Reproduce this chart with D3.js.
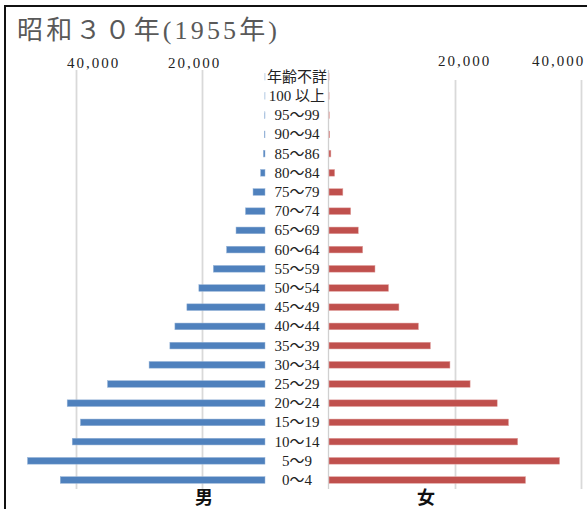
<!doctype html>
<html>
<head>
<meta charset="utf-8">
<title>昭和３０年(1955年)</title>
<script src="https://d3js.org/d3.v7.min.js"></script>
<style>
  body { margin: 0; background: #fff; }
  svg { display: block; }
</style>
</head>
<body>
<script>
// age groups, top row first (as printed)
var ageLabels = ["年齢不詳", "100 以上", "95～99", "90～94", "85～86", "80～84", "75～79",
                 "70～74", "65～69", "60～64", "55～59", "50～54", "45～49", "40～44",
                 "35～39", "30～34", "25～29", "20～24", "15～19", "10～14", "5～9", "0～4"];
// 男 (persons)
var maleValues = [10, 20, 40, 100, 260, 700, 1900,
                  3100, 4600, 6100, 8200, 10500, 12400, 14300,
                  15100, 18400, 25000, 31400, 29300, 30600, 37700, 32500];
// 女 (persons)
var femaleValues = [10, 15, 40, 100, 300, 900, 2200,
                    3450, 4650, 5350, 7300, 9450, 11100, 14200,
                    16100, 19200, 22400, 26700, 28500, 29950, 36600, 31200];
var tickValues = [20000, 40000];
// the men's chart is stacked on an invisible spacer to leave room for the age labels
var labelSpacer = 10000;

var vizWidth = 587, vizHeight = 509;

var viz = d3.select("body").append("svg")
    .attr("width", vizWidth)
    .attr("height", vizHeight);

// frame
viz.append("rect")
    .attr("x", 5).attr("y", 6)
    .attr("width", 620).attr("height", 600)
    .attr("fill", "none")
    .attr("stroke", "#111")
    .attr("stroke-width", 2);

viz.append("text")
    .attr("x", 17)
    .attr("y", 39)
    .attr("font-family", "'Liberation Serif', 'Noto Sans CJK JP', serif")
    .attr("font-size", "26px")
    .attr("fill", "#595959")
    .attr("textLength", 260)
    .attr("lengthAdjust", "spacing")
    .text("昭和３０年(1955年)");

var xLeft = d3.scaleLinear().domain([0, 40000]).range([328, 76]);
var xRight = d3.scaleLinear().domain([0, 40000]).range([329, 581]);
var y = d3.scaleBand()
    .domain(ageLabels)
    .range([67.2, 489.6])
    .paddingInner(0.65)
    .paddingOuter(0.325);

var gridBottom = 489;

function styleAxis(g, labelY, nudge) {
  g.select(".domain").remove();
  g.selectAll(".tick line")
      .attr("stroke", "#d9d9d9")
      .attr("stroke-width", 1.8);
  g.selectAll(".tick text")
      .attr("y", labelY)
      .attr("dx", function(d) { return nudge[d]; })
      .attr("font-family", "'Liberation Serif', serif")
      .attr("font-size", "15px")
      .attr("letter-spacing", "2px")
      .attr("fill", "#222");
}

var leftAxis = viz.append("g")
    .attr("transform", "translate(0,70)")
    .call(d3.axisTop(xLeft).tickValues(tickValues)
          .tickSize(-(gridBottom - 70)).tickFormat(d3.format(",")));
styleAxis(leftAxis, -2, {20000: -8, 40000: 17});

var rightAxis = viz.append("g")
    .attr("transform", "translate(0,80)")
    .call(d3.axisTop(xRight).tickValues(tickValues)
          .tickSize(-(gridBottom - 80)).tickFormat(d3.format(",")));
styleAxis(rightAxis, -14, {20000: 9, 40000: -23});

// vertical axis line of the women's chart
viz.append("line")
    .attr("x1", xRight(0) - 0.5).attr("x2", xRight(0) - 0.5)
    .attr("y1", 70).attr("y2", gridBottom)
    .attr("stroke", "#d0d0d0")
    .attr("stroke-width", 1.3);

// male bars
viz.append("g").selectAll("rect")
    .data(ageLabels)
    .enter().append("rect")
    .attr("x", function(d, i) { return xLeft(labelSpacer + maleValues[i]); })
    .attr("y", function(d) { return y(d); })
    .attr("width", function(d, i) { return xLeft(labelSpacer) - xLeft(labelSpacer + maleValues[i]); })
    .attr("height", y.bandwidth())
    .attr("fill", "#4f81bd")
    .attr("stroke", "#9bb7d9")
    .attr("stroke-width", 0.5);

// female bars
viz.append("g").selectAll("rect")
    .data(ageLabels)
    .enter().append("rect")
    .attr("x", xRight(0))
    .attr("y", function(d) { return y(d); })
    .attr("width", function(d, i) { return xRight(femaleValues[i]) - xRight(0); })
    .attr("height", y.bandwidth())
    .attr("fill", "#c0504d")
    .attr("stroke", "#e3a9a7")
    .attr("stroke-width", 0.5);

// age labels
var labelX = (xLeft(labelSpacer) + xRight(0)) / 2;
viz.append("g").selectAll("text")
    .data(ageLabels)
    .enter().append("text")
    .attr("x", labelX)
    .attr("y", function(d) { return y(d) + y.bandwidth() / 2 + 5; })
    .attr("text-anchor", "middle")
    .attr("font-family", "'Liberation Serif', 'Noto Sans CJK JP', serif")
    .attr("font-size", "15px")
    .attr("fill", "#222")
    .text(function(d) { return d; });

// sex titles
viz.append("text")
    .attr("x", 204).attr("y", 504)
    .attr("text-anchor", "middle")
    .attr("font-family", "'Noto Sans CJK JP', sans-serif")
    .attr("font-size", "18px")
    .attr("font-weight", "bold")
    .attr("fill", "#111")
    .text("男");
viz.append("text")
    .attr("x", 426).attr("y", 504)
    .attr("text-anchor", "middle")
    .attr("font-family", "'Noto Sans CJK JP', sans-serif")
    .attr("font-size", "18px")
    .attr("font-weight", "bold")
    .attr("fill", "#111")
    .text("女");
</script>
</body>
</html>
